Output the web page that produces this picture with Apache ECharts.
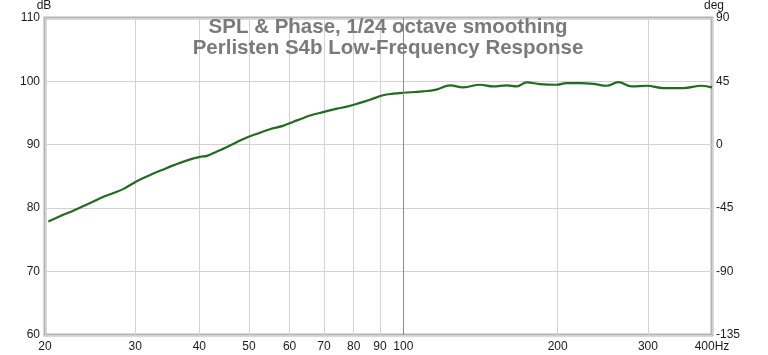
<!DOCTYPE html>
<html><head><meta charset="utf-8">
<script src="https://cdn.jsdelivr.net/npm/echarts@6/dist/echarts.min.js"></script>
<style>html,body{margin:0;padding:0;background:#fff}#c{width:768px;height:355px}</style>
</head><body><div id="c"></div>
<script>
var titleLines = ['SPL & Phase, 1/24 octave smoothing', 'Perlisten S4b Low-Frequency Response'];
var freqs = [20.3,21.5,22.7,24.5,26.0,27.2,28.4,30.2,32.0,33.8,35.6,38.4,40.2,41.4,43.2,45.2,47.3,49.5,52.5,54.9,58.2,60.9,63.3,65.8,69.7,74.2,77.6,82.3,86.1,91.3,95.5,100,109,116,123.3,130.9,141.1,149.8,159.1,166.4,174.0,184.7,199.1,208.3,221.1,234.7,249.2,262.6,278.9,298.3,321.4,351.6,382,400];
var spl = [77.9,78.8,79.6,80.8,81.8,82.4,83.0,84.25,85.2,86.0,86.75,87.7,88.1,88.25,88.9,89.6,90.4,91.15,91.9,92.45,92.97,93.6,94.1,94.6,95.15,95.7,96.0,96.6,97.1,97.8,98.05,98.2,98.4,98.7,99.36,99.05,99.46,99.2,99.36,99.2,99.83,99.56,99.46,99.72,99.72,99.6,99.3,99.88,99.2,99.3,98.94,98.94,99.3,99.05];
var xTicks = [20,30,40,50,60,70,80,90,100,200,300,400];
var xMin = 20, xMax = 400;
var dbMin = 60, dbMax = 110, dbStep = 10;
var degMin = -135, degMax = 90, degStep = 45;
var markFreq = [100];

var lg = function(v){ return Math.log10(v); };
var chart = echarts.init(document.getElementById('c'), null, {renderer:'canvas'});
var labelFont = {color:'#1a1a1a', fontSize:12, fontFamily:'Liberation Sans, Arial, sans-serif'};
chart.setOption({
  animation:false,
  title:{
    text: titleLines.join('\n'),
    left: 383, top: 12, textAlign:'center',
    textStyle:{color:'#7a7a7a', fontSize:20.5, fontWeight:'bold', lineHeight:21, fontFamily:'Liberation Sans, Arial, sans-serif'}
  },
  grid:{left:45, right:56, top:14, bottom:20, show:true, borderColor:'#b4b4b4', borderWidth:3, backgroundColor:'transparent'},
  xAxis:{
    type:'value', min:lg(xMin), max:lg(xMax),
    axisLine:{show:false}, 
    axisTick:{show:false, customValues: xTicks.map(lg)},
    splitLine:{show:true, lineStyle:{color:'#d2d2d2', width:1}},
    axisLabel:Object.assign({margin:6, customValues: xTicks.map(lg),
      formatter:function(v){ var f=Math.round(Math.pow(10,v)); return f===xMax ? f+'Hz' : String(f); }}, labelFont)
  },
  yAxis:[{
    type:'value', min:dbMin, max:dbMax, interval:dbStep, name:'dB',
    nameGap:2, nameTextStyle:Object.assign({align:'center', padding:[0,0,0,-2]}, labelFont),
    axisLine:{show:false}, axisTick:{show:false},
    splitLine:{show:true, lineStyle:{color:'#d2d2d2', width:1}},
    axisLabel:Object.assign({margin:5}, labelFont)
  },{
    type:'value', min:degMin, max:degMax, interval:degStep, name:'deg', position:'right',
    nameGap:2, nameTextStyle:Object.assign({align:'center', padding:[0,0,0,4]}, labelFont),
    axisLine:{show:false}, axisTick:{show:false}, splitLine:{show:false},
    axisLabel:Object.assign({margin:4}, labelFont)
  }],
  series:[{
    type:'line', yAxisIndex:0, showSymbol:false, smooth:0.4,
    data: freqs.map(function(f,i){ return [lg(f), spl[i]]; }),
    lineStyle:{color:'#236b23', width:2.2},
    itemStyle:{color:'#236b23'},
    markLine:{silent:true, symbol:'none', label:{show:false},
      lineStyle:{color:'#8a8a8a', width:1, type:'solid'},
      data: markFreq.map(function(f){ return {xAxis: lg(f)}; })}
  }]
});
</script></body></html>
